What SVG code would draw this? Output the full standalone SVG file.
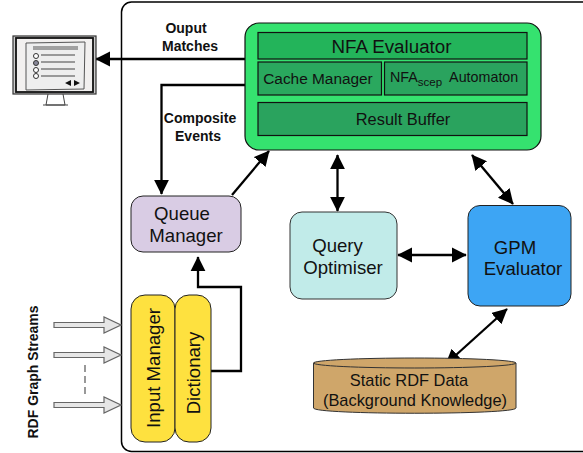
<svg xmlns="http://www.w3.org/2000/svg" width="583" height="453" viewBox="0 0 583 453">
<style>
text{font-family:"Liberation Sans",Arial,sans-serif;fill:#111;text-anchor:middle}
.b{font-weight:bold;font-size:14px}
.n{fill:none;stroke:#000;stroke-width:2.300}
.in{stroke:#111;stroke-width:1.200}
.big{font-size:18.600px}
.sm{font-size:16.400px}
.st{fill:#e6e6e6;stroke:#666;stroke-width:1.200}
</style>
<defs>
<marker id="a" viewBox="0 0 10 10" refX="9.500" refY="5" markerWidth="6.600" markerHeight="6.600" orient="auto-start-reverse" markerUnits="strokeWidth"><path d="M0 0L10 5L0 10Z" fill="#000"/></marker>
</defs>
<rect id="frame" x="121.500" y="2" width="470" height="449.500" rx="10" fill="#fff" stroke="#000" stroke-width="1.500"/>
<g id="connectors">
<path class="n" d="M246 59H96" marker-end="url(#a)"/>
<path class="n" d="M246 85H161.500V194" marker-end="url(#a)"/>
<path class="n" d="M232 195L269 151" marker-end="url(#a)"/>
<path class="n" d="M337.500 155V211" marker-start="url(#a)" marker-end="url(#a)"/>
<path class="n" d="M472 155L513 204" marker-start="url(#a)" marker-end="url(#a)"/>
<path class="n" d="M398 255H466" marker-start="url(#a)" marker-end="url(#a)"/>
<path class="n" d="M446 364L507 309" marker-start="url(#a)" marker-end="url(#a)"/>
<path class="n" d="M211 371H241V287H198V257" marker-end="url(#a)"/>
<path class="st" d="M54 322.500H104V317L121 325L104 333V327.500H54Z"/>
<path class="st" d="M54 352.500H104V347L121 355L104 363V357.500H54Z"/>
<path class="st" d="M54 402.500H104V397L121 405L104 413V407.500H54Z"/>
<path d="M85 365V398" fill="none" stroke="#555" stroke-width="1.200" stroke-dasharray="7 4"/>
</g>
<g id="monitor">
<rect x="13" y="36" width="83" height="58" fill="#ccc" stroke="#333" stroke-width="1.200"/>
<rect x="16" y="38" width="77" height="54" fill="#f2f0ef" stroke="#111" stroke-width="1.800"/>
<path d="M26 43L85 42L84 89L26 90Z" fill="#eee" stroke="#555" stroke-width="1"/>
<path d="M33 47H78M33 49H78" stroke="#555" stroke-width="1"/>
<path d="M41 55H75M41 62H75M41 69H75M41 76H75" stroke="#444" stroke-width="1"/>
<g fill="#fff" stroke="#333" stroke-width="1"><circle cx="36" cy="56" r="2.500"/><circle cx="36" cy="63" r="2.500" fill="#889"/><circle cx="36" cy="70" r="2.500"/><circle cx="36" cy="76" r="2.500"/></g>
<path d="M71 80L65 83L71 86ZM74 80L80 83L74 86Z" fill="#111"/>
<path d="M48 94L46 105H65L63 94M43 105H68" fill="none" stroke="#444" stroke-width="1"/>
</g>
<g id="nfa">
<rect x="245" y="23" width="296" height="127" rx="14" fill="#35e26f" stroke="#111" stroke-width="1.200"/>
<rect class="in" x="258" y="32.500" width="269" height="26.500" fill="#23b45a"/>
<rect class="in" x="258" y="62" width="123.500" height="33" fill="#2aa85e"/>
<rect class="in" x="384.500" y="62" width="142.500" height="33" fill="#2aa35e"/>
<rect class="in" x="258" y="102.500" width="269" height="33" fill="#2aa35e"/>
<text x="391.500" y="53" style="font-size:18.800px">NFA Evaluator</text>
<text x="318" y="84" font-size="15.400">Cache Manager</text>
<text x="390" y="82" font-size="14.300" style="text-anchor:start">NFA<tspan font-size="11.500" dy="4">scep</tspan><tspan dy="-4" dx="7">Automaton</tspan></text>
<text x="403" y="125" class="sm">Result Buffer</text>
</g>
<g id="queue">
<rect x="131" y="196" width="110" height="56" rx="12" fill="#d9cce4" stroke="#222" stroke-width="1"/>
<text x="182" y="220" class="big">Queue</text><text x="186" y="242" class="big">Manager</text>
</g>
<g id="optimiser">
<rect x="290" y="212" width="107" height="87" rx="12" fill="#c1ebe9" stroke="#333" stroke-width="1"/>
<text x="337.500" y="252" class="big">Query</text><text x="343" y="274" class="big">Optimiser</text>
</g>
<g id="gpm">
<rect x="468" y="205.500" width="103" height="100.500" rx="12" fill="#3da5f4" stroke="#222" stroke-width="1"/>
<text x="515" y="254" class="big">GPM</text><text x="523" y="275" class="big">Evaluator</text>
</g>
<g id="static">
<path d="M313.500 363V408C313.500 415 516 415 516 408V363Z" fill="#cfa66a" stroke="#333" stroke-width="1"/>
<ellipse cx="414.750" cy="363" rx="101.250" ry="5" fill="#cfa66a" stroke="#333" stroke-width="1"/>
<text x="409" y="386" class="sm">Static RDF Data</text><text x="415" y="406" class="sm">(Background Knowledge)</text>
</g>
<g id="input">
<rect x="131" y="295" width="44" height="147" rx="14" fill="#fee13f" stroke="#222" stroke-width="1"/>
<text transform="translate(160 368) rotate(-90)" class="big">Input Manager</text>
</g>
<g id="dictionary">
<rect x="175" y="295" width="36" height="147" rx="14" fill="#fee13f" stroke="#222" stroke-width="1"/>
<text transform="translate(200 373) rotate(-90)" class="big">Dictionary</text>
</g>
<g id="labels">
<text x="186" y="33" class="b">Ouput</text>
<text x="190" y="51" class="b">Matches</text>
<text x="200" y="123" class="b">Composite</text>
<text x="198" y="141" class="b">Events</text>
<text transform="translate(38 372) rotate(-90)" class="b">RDF Graph Streams</text>
</g>
</svg>
